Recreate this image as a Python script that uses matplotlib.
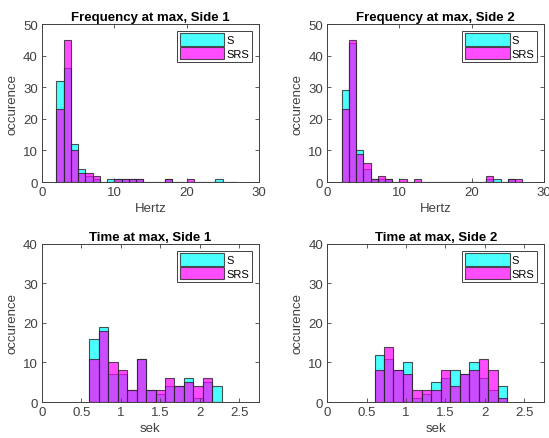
import numpy as np
import matplotlib
matplotlib.use('Agg')
from matplotlib import pyplot as plt

plt.rcParams['font.family'] = ['Liberation Sans', 'DejaVu Sans']

# frequency histograms: 1 Hz bins from 2 to 27 Hz
freq_edges = np.arange(2, 28, 1)
freq_s_side1 = [32, 36, 12, 4, 2, 1, 0, 1, 1, 1, 1, 1, 0, 0, 0, 1, 0, 0, 0, 0, 0, 0, 1, 0, 0]
freq_srs_side1 = [23, 45, 10, 3, 3, 2, 0, 0, 1, 1, 1, 1, 0, 0, 0, 1, 0, 0, 1, 0, 0, 0, 0, 0, 0]
freq_s_side2 = [29, 44, 10, 4, 1, 1, 1, 0, 0, 0, 0, 0, 0, 0, 0, 0, 0, 0, 0, 0, 1, 1, 0, 1, 0]
freq_srs_side2 = [23, 45, 9, 6, 1, 2, 1, 0, 1, 0, 1, 0, 0, 0, 0, 0, 0, 0, 0, 0, 2, 0, 0, 1, 1]

# time histograms: 0.12 s bins from 0.6 to 2.28 s
time_edges = np.linspace(0.6, 2.28, 15)
time_s_side1 = [16, 19, 7, 7, 3, 11, 3, 2, 4, 4, 6, 1, 5, 4]
time_srs_side1 = [11, 18, 10, 8, 3, 11, 3, 3, 6, 4, 5, 4, 6, 0]
time_s_side2 = [12, 11, 8, 10, 1, 2, 5, 6, 8, 7, 10, 6, 3, 4]
time_srs_side2 = [8, 14, 8, 7, 3, 3, 3, 8, 4, 7, 8, 11, 8, 1]

labels = ['S', 'SRS']
cyan = (0, 1, 1, 0.7)
magenta = (1, 0, 1, 0.7)
edge = (0.15, 0.15, 0.15, 0.8)


def plot_hist(ax, edges, s, srs, title, xlabel, xlim, xticks, ylim, yticks):
    w = np.diff(edges)
    ax.bar(edges[:-1], s, width=w, align='edge', color=cyan, edgecolor=edge, linewidth=0.8, label=labels[0])
    ax.bar(edges[:-1], srs, width=w, align='edge', color=magenta, edgecolor=edge, linewidth=0.8, label=labels[1])
    ax.set_xlim(xlim)
    ax.set_ylim(ylim)
    ax.set_xticks(xticks)
    ax.set_yticks(yticks)
    ax.set_xticklabels(['{:g}'.format(t) for t in xticks])
    ax.set_title(title, fontsize=9.5, fontweight='bold', pad=3)
    ax.set_xlabel(xlabel, fontsize=9.5, color='0.25', labelpad=3)
    ax.set_ylabel('occurence', fontsize=9.5, color='0.25', labelpad=3)
    ax.tick_params(direction='in', length=3, width=0.6, labelsize=9.5, colors='0.25',
                   top=True, right=True, pad=3)
    for sp in ax.spines.values():
        sp.set_color('0.25')
        sp.set_linewidth(0.7)
    leg = ax.legend(loc='upper right', fontsize=8, fancybox=False, framealpha=1,
                    handlelength=4.0, handleheight=1.3, handletextpad=0.2,
                    borderpad=0.25, labelspacing=0.15, borderaxespad=0.6)
    leg.get_frame().set_edgecolor('0.25')
    leg.get_frame().set_linewidth(0.7)


fig = plt.figure(figsize=(5.49, 4.39), dpi=100)
axes = [
    fig.add_axes([0.0765, 0.583, 0.395, 0.36]),
    fig.add_axes([0.596, 0.583, 0.395, 0.36]),
    fig.add_axes([0.0765, 0.082, 0.395, 0.36]),
    fig.add_axes([0.596, 0.082, 0.395, 0.36]),
]

plot_hist(axes[0], freq_edges, freq_s_side1, freq_srs_side1, 'Frequency at max, Side 1', 'Hertz',
          (0, 30), [0, 10, 20, 30], (0, 50), [0, 10, 20, 30, 40, 50])
plot_hist(axes[1], freq_edges, freq_s_side2, freq_srs_side2, 'Frequency at max, Side 2', 'Hertz',
          (0, 30), [0, 10, 20, 30], (0, 50), [0, 10, 20, 30, 40, 50])
plot_hist(axes[2], time_edges, time_s_side1, time_srs_side1, 'Time at max, Side 1', 'sek',
          (0, 2.75), [0, 0.5, 1, 1.5, 2, 2.5], (0, 40), [0, 10, 20, 30, 40])
plot_hist(axes[3], time_edges, time_s_side2, time_srs_side2, 'Time at max, Side 2', 'sek',
          (0, 2.75), [0, 0.5, 1, 1.5, 2, 2.5], (0, 40), [0, 10, 20, 30, 40])

fig.savefig('out.png', dpi=100)
